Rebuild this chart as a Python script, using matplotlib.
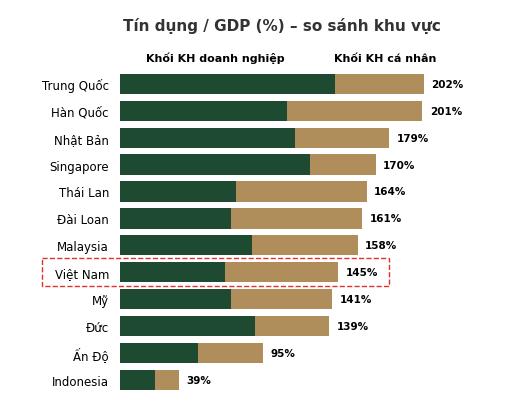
import matplotlib.pyplot as plt
from matplotlib.patches import Rectangle

countries = ['Trung Quốc', 'Hàn Quốc', 'Nhật Bản', 'Singapore', 'Thái Lan', 'Đài Loan',
             'Malaysia', 'Việt Nam', 'Mỹ', 'Đức', 'Ấn Độ', 'Indonesia']
totals = [202, 201, 179, 170, 164, 161, 158, 145, 141, 139, 95, 39]
corporate = [143, 111, 116, 126, 77, 74, 88, 70, 74, 90, 52, 23]
household = [t - c for t, c in zip(totals, corporate)]

green = '#1e4a32'
tan = '#b08e5c'

fig = plt.figure(figsize=(5.32, 4.10), dpi=100)
ax = fig.add_axes([0.2256, 0.038, 0.656, 0.788])
y = list(range(len(countries)))
ax.barh(y, corporate, height=0.75, color=green)
ax.barh(y, household, left=corporate, height=0.75, color=tan)
for yi, t in zip(y, totals):
    ax.text(t + 5, yi, f'{t}%', va='center', ha='left', fontsize=7.5, fontweight='bold')
ax.set_xlim(0, 232)
ax.set_ylim(len(countries) - 0.5, -0.5)
ax.set_yticks(y)
ax.set_yticklabels(countries, fontsize=8.5)
ax.tick_params(axis='y', length=0, pad=8)
ax.set_xticks([])
for s in ax.spines.values():
    s.set_visible(False)

# highlight Viet Nam
vn = countries.index('Việt Nam')
ax.add_patch(Rectangle((-52, vn - 0.52), 231, 1.04, fill=False, edgecolor='#e03030',
                       linestyle='--', linewidth=1, clip_on=False))

fig.text(0.404, 0.848, 'Khối KH doanh nghiệp', ha='center', fontsize=8, fontweight='bold')
fig.text(0.724, 0.848, 'Khối KH cá nhân', ha='center', fontsize=8, fontweight='bold')
fig.text(0.53, 0.925, 'Tín dụng / GDP (%) – so sánh khu vực', ha='center',
         fontsize=11, fontweight='bold', color='#333333')

fig.savefig('out.png', dpi=100)
